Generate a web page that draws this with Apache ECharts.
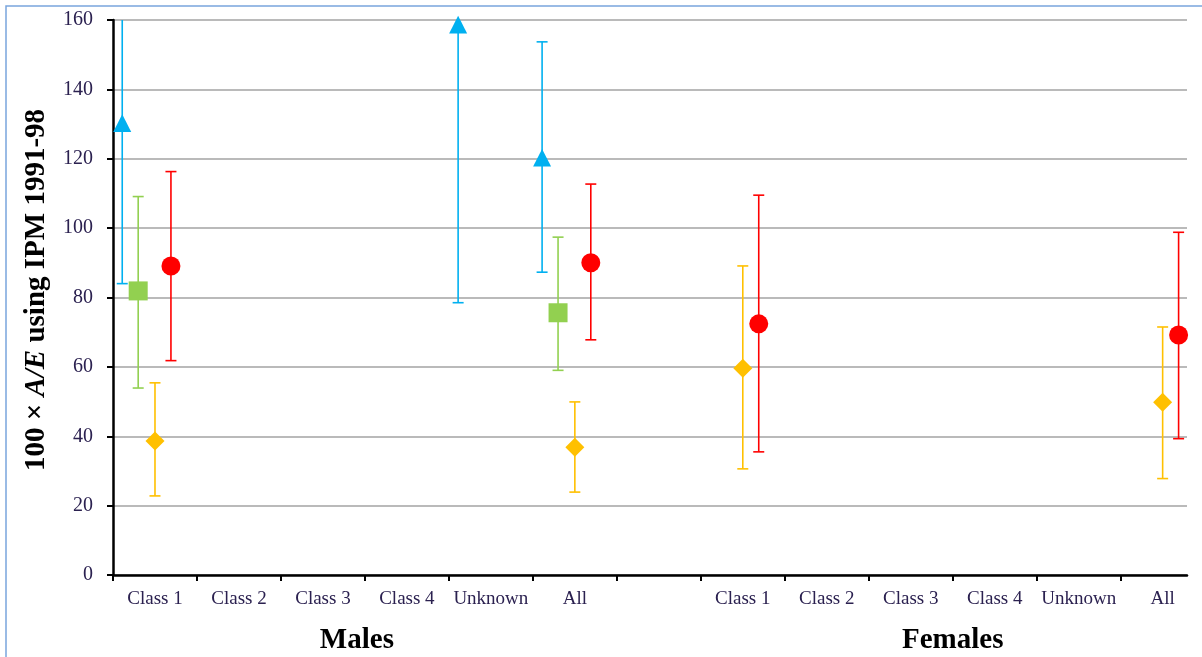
<!DOCTYPE html>
<html>
<head>
<meta charset="utf-8">
<title>100 × A/E using IPM 1991-98</title>
<script src="https://cdn.jsdelivr.net/npm/echarts@6/dist/echarts.min.js"></script>
<style>
  html, body { margin: 0; padding: 0; background: #ffffff; }
  #chart { width: 1202px; height: 657px; }
</style>
</head>
<body>
<div id="chart"></div>
<script>
// Category slots along the x axis (slot 6 is the gap between the two groups)
const categories = ['Class 1', 'Class 2', 'Class 3', 'Class 4', 'Unknown', 'All', '',
                    'Class 1', 'Class 2', 'Class 3', 'Class 4', 'Unknown', 'All'];
const groups = [{ name: 'Males', first: 0, last: 5 }, { name: 'Females', first: 7, last: 12 }];
const yTicks = [0, 20, 40, 60, 80, 100, 120, 140, 160];
const yMax = 160;
const xMax = 12.79;   // last slot is only partly shown

// Each row: [slot, estimate, lower limit, upper limit]
// An upper limit of 160 marks an interval that runs past the top of the scale.
const blueTriangle = [
  [0, 130.2, 84.0, 160],
  [4, 158.6, 78.5, 160],
  [5, 120.2, 87.3, 153.7]
];
const greenSquare = [
  [0, 81.9, 53.9, 109.1],
  [5, 75.6, 59.0, 97.4]
];
const yellowDiamond = [
  [0, 38.6, 22.8, 55.4],
  [5, 36.8, 23.9, 49.9],
  [7, 59.6, 30.6, 89.1],
  [12, 49.8, 27.8, 71.5]
];
const redCircle = [
  [0, 89.1, 61.8, 116.3],
  [5, 90.0, 67.8, 112.7],
  [7, 72.4, 35.5, 109.5],
  [12, 69.2, 39.3, 98.8]
];

const seriesDefs = [
  { data: blueTriangle,  color: '#00B0F0', shift: -0.39, symbol: 'triangle', size: 18 },
  { data: greenSquare,   color: '#92D050', shift: -0.20, symbol: 'rect',     size: 19 },
  { data: yellowDiamond, color: '#FFC000', shift:  0.00, symbol: 'diamond',  size: 19 },
  { data: redCircle,     color: '#FF0000', shift:  0.19, symbol: 'circle',   size: 19 }
];

const serif = '"Liberation Serif", "Times New Roman", Times, serif';
const labelColor = '#2b2150';

function makeRenderer(def) {
  return function (params, api) {
    const slot = api.value(0);
    const x = slot + 0.5 + def.shift;
    const pMid = api.coord([x, api.value(1)]);
    const pLo = api.coord([x, api.value(2)]);
    const hiVal = api.value(3);
    const pHi = api.coord([x, Math.min(hiVal, yMax)]);
    const cap = 5.5;
    const lineStyle = { stroke: def.color, lineWidth: 1.6 };
    const children = [
      { type: 'line', shape: { x1: pMid[0], y1: pLo[1], x2: pMid[0], y2: pHi[1] }, style: lineStyle },
      { type: 'line', shape: { x1: pMid[0] - cap, y1: pLo[1], x2: pMid[0] + cap, y2: pLo[1] }, style: lineStyle }
    ];
    if (hiVal < yMax) {
      children.push({ type: 'line', shape: { x1: pMid[0] - cap, y1: pHi[1], x2: pMid[0] + cap, y2: pHi[1] }, style: lineStyle });
    }
    const s = def.size;
    const h = s / 2;
    let marker;
    if (def.symbol === 'circle') {
      marker = { type: 'circle', shape: { cx: pMid[0], cy: pMid[1], r: h }, style: { fill: def.color } };
    } else if (def.symbol === 'rect') {
      marker = { type: 'rect', shape: { x: pMid[0] - h, y: pMid[1] - h, width: s, height: s }, style: { fill: def.color } };
    } else if (def.symbol === 'diamond') {
      marker = { type: 'polygon', shape: { points: [[pMid[0], pMid[1] - h], [pMid[0] + h, pMid[1]], [pMid[0], pMid[1] + h], [pMid[0] - h, pMid[1]]] }, style: { fill: def.color } };
    } else {
      marker = { type: 'polygon', shape: { points: [[pMid[0], pMid[1] - h], [pMid[0] + h, pMid[1] + h * 0.95], [pMid[0] - h, pMid[1] + h * 0.95]] }, style: { fill: def.color } };
    }
    children.push(marker);
    return { type: 'group', children: children };
  };
}

const labelSlots = categories.map((c, i) => i).filter(i => categories[i] !== '').map(i => i + 0.5);
const tickSlots = categories.map((c, i) => i);

const chart = echarts.init(document.getElementById('chart'), null, { renderer: 'canvas' });

const option = {
  backgroundColor: '#ffffff',
  animation: false,
  grid: { left: 113, right: 15, top: 20, bottom: 82 },
  xAxis: {
    type: 'value',
    min: 0,
    max: xMax,
    axisLine: { show: true, lineStyle: { color: '#000000', width: 2.5 } },
    axisTick: { show: true, customValues: tickSlots, length: 6, lineStyle: { color: '#000000', width: 2 } },
    splitLine: { show: false },
    axisLabel: {
      customValues: labelSlots,
      formatter: v => categories[Math.floor(v)],
      fontFamily: serif,
      fontSize: 19,
      color: labelColor,
      margin: 15
    }
  },
  yAxis: {
    type: 'value',
    min: 0,
    max: yMax,
    interval: 20,
    axisLine: { show: true, lineStyle: { color: '#000000', width: 2.5 } },
    axisTick: { show: true, customValues: yTicks, length: 6, lineStyle: { color: '#000000', width: 2 } },
    splitLine: { show: true, lineStyle: { color: '#a3a3a3', width: 1.5 } },
    axisLabel: {
      customValues: yTicks,
      fontFamily: serif,
      fontSize: 20,
      color: labelColor,
      margin: 20
    }
  },
  series: seriesDefs.map(def => ({
    type: 'custom',
    renderItem: makeRenderer(def),
    encode: { x: 0, y: 1 },
    data: def.data,
    clip: false,
    z: 3
  }))
};

chart.setOption(option);

// Frame, rotated y-axis title and the group captions under the category labels
const titleFont = { fontFamily: serif, fontWeight: 'bold', fontSize: 29, fill: '#000000' };
const graphics = [{
  type: 'rect',
  shape: { x: 6, y: 6, width: 1300, height: 800 },
  style: { fill: null, stroke: '#7aa5dd', lineWidth: 1.5 },
  silent: true
}, {
  type: 'text',
  x: 37,
  y: 290,
  rotation: Math.PI / 2,
  style: {
    text: '{b|100 × }{i|A/E}{b| using IPM 1991-98}',
    align: 'center',
    verticalAlign: 'middle',
    rich: {
      b: Object.assign({}, titleFont),
      i: Object.assign({ fontStyle: 'italic' }, titleFont)
    }
  }
}];
const captionNudge = { Males: -8, Females: 0 };
groups.forEach(g => {
  const cx = chart.convertToPixel({ xAxisIndex: 0 }, (g.first + g.last + 1) / 2);
  graphics.push({
    type: 'text',
    x: cx + captionNudge[g.name],
    y: 641,
    style: {
      text: g.name,
      fontFamily: serif,
      fontWeight: 'bold',
      fontSize: 29,
      fill: '#000000',
      align: 'center',
      verticalAlign: 'middle'
    }
  });
});
chart.setOption({ graphic: graphics });
</script>
</body>
</html>
